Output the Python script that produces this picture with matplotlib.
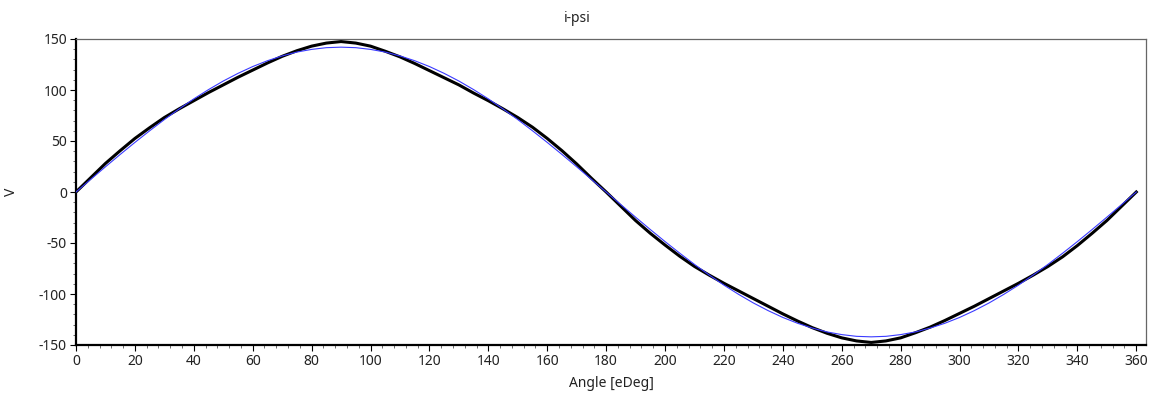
import matplotlib
matplotlib.use("Agg")
import matplotlib.pyplot as plt
from matplotlib.ticker import MultipleLocator

angle = list(range(0, 361, 5))

measured = [
    0, 14, 28, 40.5, 52.5, 63, 73, 81.5, 89.5, 97.5,
    105, 112.5, 119.5, 126.5, 133, 138.5, 143, 146, 147.5,
    146, 143, 138, 132.5, 126, 119, 112, 105, 97, 89.5,
    81.5, 73, 63.5, 52.5, 40.5, 27.5, 13.5, 0,
    -14, -28, -40.5, -52, -63, -73, -81.5, -89.5, -97,
    -104.5, -112, -119.5, -126.5, -133, -138.5, -143, -146, -147.5,
    -146, -143, -138, -132.5, -126, -119, -112, -104.5, -97, -89.5,
    -81.5, -73, -63.5, -52.5, -40.5, -28, -14, 0,
]

fitted = [
    0, 12.4, 24.7, 36.8, 48.6, 60, 71, 81.4, 91.3, 100.4,
    108.8, 116.3, 123, 128.7, 133.4, 137.2, 139.8, 141.5, 142,
    141.5, 139.8, 137.2, 133.4, 128.7, 123, 116.3, 108.8, 100.4, 91.3,
    81.4, 71, 60, 48.6, 36.8, 24.7, 12.4, 0,
    -12.4, -24.7, -36.8, -48.6, -60, -71, -81.4, -91.3, -100.4,
    -108.8, -116.3, -123, -128.7, -133.4, -137.2, -139.8, -141.5, -142,
    -141.5, -139.8, -137.2, -133.4, -128.7, -123, -116.3, -108.8, -100.4, -91.3,
    -81.4, -71, -60, -48.6, -36.8, -24.7, -12.4, 0,
]

title = "i-psi"
xlabel = "Angle [eDeg]"
ylabel = "V"

plt.rcParams['font.family'] = ['Noto Sans', 'DejaVu Sans']
plt.rcParams['axes.unicode_minus'] = False
FS = 10

W, H = 1155, 398
fig = plt.figure(figsize=(W / 100, H / 100), dpi=100)
L, R, T, B = 76, 1146, 39, 345
ax = fig.add_axes([L / W, 1 - B / H, (R - L) / W, (B - T) / H])

ax.plot(angle, measured, color="black", lw=2.2, zorder=2)
ax.plot(angle, fitted, color="#3a3aff", lw=0.8, zorder=3)

ax.set_xlim(0, 363.3)
ax.set_ylim(-150, 150)
ax.xaxis.set_major_locator(MultipleLocator(20))
ax.xaxis.set_minor_locator(MultipleLocator(4))
ax.yaxis.set_major_locator(MultipleLocator(50))
ax.yaxis.set_minor_locator(MultipleLocator(10))
ax.tick_params(which="major", length=4, width=0.8, color="black", pad=2.5,
               labelsize=FS, labelcolor="#222222")
ax.tick_params(which="minor", length=2.5, width=0.6, color="#555555")

for side in ("left", "bottom"):
    ax.spines[side].set_linewidth(1.6)
    ax.spines[side].set_color("black")
for side in ("top", "right"):
    ax.spines[side].set_linewidth(0.9)
    ax.spines[side].set_color("#666666")

ax.set_xlabel(xlabel, fontsize=FS, color="#222222")
ax.xaxis.set_label_coords(0.5, -0.102)
ax.set_ylabel(ylabel, fontsize=FS, color="#222222")
ax.yaxis.set_label_coords(-0.053, 0.5)

fig.text(0.5, 1 - 19 / H, title, ha="center", va="center", fontsize=FS,
         color="#222222")

fig.savefig("out.png", dpi=100)
